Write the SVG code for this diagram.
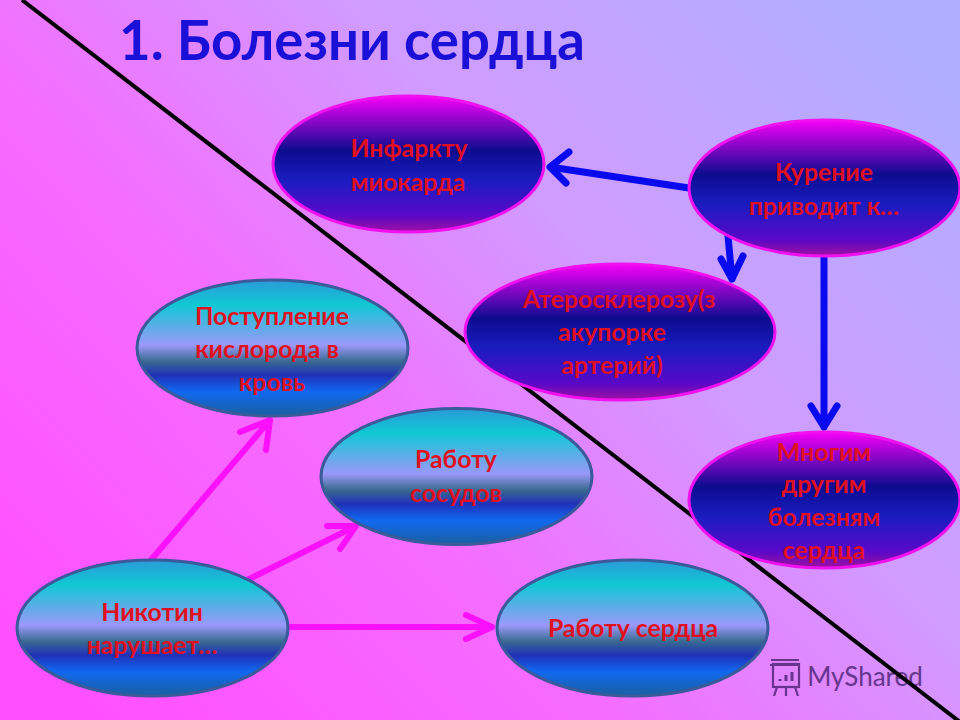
<svg xmlns="http://www.w3.org/2000/svg" width="960" height="720" viewBox="0 0 960 720">
<style>
text{font-family:"Lato","Open Sans","Liberation Sans",sans-serif;font-weight:700;text-anchor:middle}
.lbl{font-size:24.800px;fill:#e01020}
.title{font-size:54.500px;fill:#1a10d8}
.e1{fill:url(#dark);stroke:#f010f0;stroke-width:3}
.e2{fill:url(#light);stroke:#3a5a9a;stroke-width:3}
.bl{stroke:#0a0af0;stroke-width:7;fill:none;stroke-linecap:round;stroke-linejoin:round}
.pk{stroke:#fa10fa;stroke-width:6;fill:none;stroke-linecap:round;stroke-linejoin:round}
</style>
<defs>
<linearGradient id="bg" gradientUnits="userSpaceOnUse" x1="100" y1="720" x2="860" y2="0">
<stop offset="0" stop-color="#ff50ff"/><stop offset="0.35" stop-color="#f56cff"/><stop offset="0.65" stop-color="#d09cff"/><stop offset="1" stop-color="#b0aeff"/>
</linearGradient>
<linearGradient id="dark" x1="0" y1="0" x2="0" y2="1">
<stop offset="0" stop-color="#f800f8"/><stop offset="0.4" stop-color="#0c0c90"/><stop offset="0.62" stop-color="#1a1cc0"/><stop offset="0.88" stop-color="#5a08c8"/><stop offset="1" stop-color="#a010a0"/>
</linearGradient>
<linearGradient id="light" x1="0" y1="0" x2="0" y2="1">
<stop offset="0" stop-color="#2a9ad8"/><stop offset="0.18" stop-color="#10c8d4"/><stop offset="0.48" stop-color="#9a98f8"/><stop offset="0.6" stop-color="#386a90"/><stop offset="0.7" stop-color="#2030b8"/><stop offset="0.82" stop-color="#1068f0"/><stop offset="1" stop-color="#1a60a0"/>
</linearGradient>
</defs>
<rect id="background" width="960" height="720" fill="url(#bg)"/>
<g id="watermark" opacity="0.8">
<g fill="none" stroke="#4a2070" stroke-width="2.2">
<rect x="773" y="664" width="26" height="23"/><path d="M770 665h30M771 660h28M777 687l-3 9M786 687v9M795 687l3 9"/>
<path d="M780 681v-2M786 681v-6M792 681v-9" stroke-width="3"/>
</g>
<text x="865" y="686" style="font-size:26px;font-weight:400;fill:#4a2070">MyShared</text>
</g>
<line id="diagonal" x1="22" y1="0" x2="960" y2="722" stroke="#000" stroke-width="4"/>
<text class="title" x="352" y="60">1. Болезни сердца</text>
<g id="connectors">
<path class="bl" d="M689 188L550 167M569 152L550 167L566 183"/>
<path class="bl" d="M728 236L732 279M721 259L732 279L743 256"/>
<path class="bl" d="M824 256V427M811 406L824 427L837 406"/>
<path class="pk" d="M151 560L270 420M240 432L270 420L266 450"/>
<path class="pk" d="M247 580L356 526M327 526L356 526L340 549"/>
<path class="pk" d="M287 627H492M466 615L492 627L466 639"/>
</g>
<g id="n-infarct"><ellipse class="e1" cx="408.500" cy="164" rx="135.500" ry="68"/><text class="lbl" x="409" y="157">Инфаркту</text><text class="lbl" x="408" y="191">миокарда</text></g>
<g id="n-smoking"><ellipse class="e1" cx="824.500" cy="188" rx="135.500" ry="68"/><text class="lbl" x="824" y="181">Курение</text><text class="lbl" x="824" y="215">приводит к…</text></g>
<g id="n-athero"><ellipse class="e1" cx="620" cy="332" rx="155" ry="68"/><text class="lbl" x="619" y="308">Атеросклерозу(з</text><text class="lbl" x="612" y="341">акупорке</text><text class="lbl" x="612" y="374">артерий)</text></g>
<g id="n-other"><ellipse class="e1" cx="824.500" cy="500" rx="135.500" ry="68"/><text class="lbl" x="824" y="461">Многим</text><text class="lbl" x="824" y="493">другим</text><text class="lbl" x="824" y="526">болезням</text><text class="lbl" x="824" y="559">сердца</text></g>
<g id="n-oxygen"><ellipse class="e2" cx="272.500" cy="348" rx="135.500" ry="68"/><text class="lbl" x="272" y="325">Поступление</text><text class="lbl" x="267" y="358">кислорода в</text><text class="lbl" x="272" y="391">кровь</text></g>
<g id="n-vessels"><ellipse class="e2" cx="456.500" cy="476.500" rx="135.500" ry="68"/><text class="lbl" x="456" y="468">Работу</text><text class="lbl" x="456" y="502">сосудов</text></g>
<g id="n-nicotine"><ellipse class="e2" cx="152.500" cy="628" rx="135.500" ry="68"/><text class="lbl" x="152" y="621">Никотин</text><text class="lbl" x="152" y="654">нарушает…</text></g>
<g id="n-heart"><ellipse class="e2" cx="632.500" cy="628" rx="135.500" ry="68"/><text class="lbl" x="633" y="637">Работу сердца</text></g>
</svg>
